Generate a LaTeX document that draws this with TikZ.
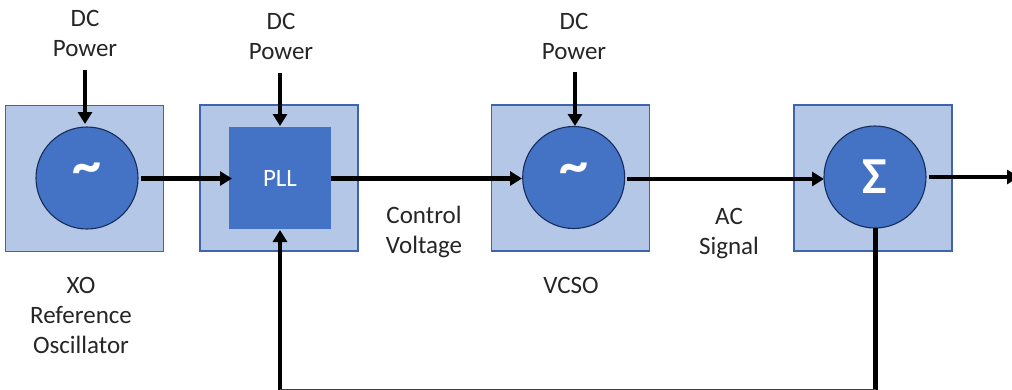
\documentclass[tikz,border=0pt]{standalone}
\usepackage{fontspec}
\setmainfont{Carlito}
\usetikzlibrary{arrows.meta}
\definecolor{lightb}{RGB}{180,199,231}
\definecolor{midb}{RGB}{68,114,196}
\definecolor{edgeb}{RGB}{62,100,170}
\definecolor{darkb}{RGB}{22,45,90}
\newcommand{\osctilde}{\raisebox{8pt}{\fontsize{58}{58}\selectfont\bfseries\textasciitilde}}
\tikzset{
 x=1pt,y=-1pt,
 outerbox/.style={draw=edgeb,line width=1.2pt,fill=lightb,minimum width=158pt,minimum height=146pt,inner sep=0pt},
 osc/.style={circle,draw=darkb,line width=1.1pt,fill=midb,minimum size=102pt,inner sep=0pt,text=white},
 pllbox/.style={fill=midb,minimum size=102pt,inner sep=0pt,text=white,font=\fontsize{25}{30}\selectfont},
 lab/.style={align=center,font=\fontsize{25}{30}\selectfont,text=black!85,inner sep=0pt},
 conn/.style={line width=4.8pt,-{Triangle[length=12pt,width=14pt]},black},
 plain/.style={line width=4.8pt,black},
 thinline/.style={line width=3.6pt,black!75},
}
\begin{document}
\begin{tikzpicture}
\useasboundingbox (0,0) rectangle (1012,389);
\fill[white] (0,0) rectangle (1012,389);
\node[outerbox] (b1) at (84.5,178.5) {};
\node[outerbox] (b2) at (279,178) {};
\node[outerbox] (b3) at (570.5,178) {};
\node[outerbox] (b4) at (873,178) {};
\node[osc] (xo) at (87,178) {\osctilde};
\node[pllbox] (pll) at (280,178) {PLL};
\node[osc] (vcso) at (573.7,177.5) {\osctilde};
\node[osc,font=\fontsize{52}{54}\selectfont\bfseries] (sum) at (875,177) {Σ};
\node[lab] (d1) at (85,33) {DC\\Power};
\node[lab] (d2) at (281,36) {DC\\Power};
\node[lab] (d3) at (574,36) {DC\\Power};
\node[lab] (cv) at (424,232) {Control\\Voltage};
\node[lab] (ac) at (729,233.5) {AC\\Signal};
\node[lab] (vl) at (571,285) {VCSO};
\node[lab] (xl) at (81,315) {XO\\Reference\\Oscillator};
\coordinate (s1) at (85,70);
\coordinate (e1) at (85,124);
\coordinate (s2) at (280,73);
\coordinate (e2) at (280,126);
\coordinate (s3) at (575,72);
\coordinate (e3) at (575,126);
\coordinate (xs) at (141,178.5);
\coordinate (xe) at (232,178.5);
\coordinate (ps) at (331,178.5);
\coordinate (pe) at (522,178.5);
\coordinate (vs) at (627,179);
\coordinate (ve) at (824,179);
\coordinate (ss) at (929,177);
\coordinate (o1) at (1019,177);
\coordinate (c0) at (875.5,228);
\coordinate (c1) at (875.5,390.5);
\coordinate (c2) at (280,390.5);
\coordinate (e4) at (280,230);
\draw[conn] (s1) -- (e1);
\draw[conn] (s2) -- (e2);
\draw[conn] (s3) -- (e3);
\draw[conn] (xs) -- (xe);
\draw[conn] (ps) -- (pe);
\draw[conn] (vs) -- (ve);
\draw[conn] (ss) -- (o1);
\draw[plain] (c0) -- (c1);
\draw[conn] (c2) -- (e4);
\draw[thinline] (c1) -- (c2);
\end{tikzpicture}
\end{document}
